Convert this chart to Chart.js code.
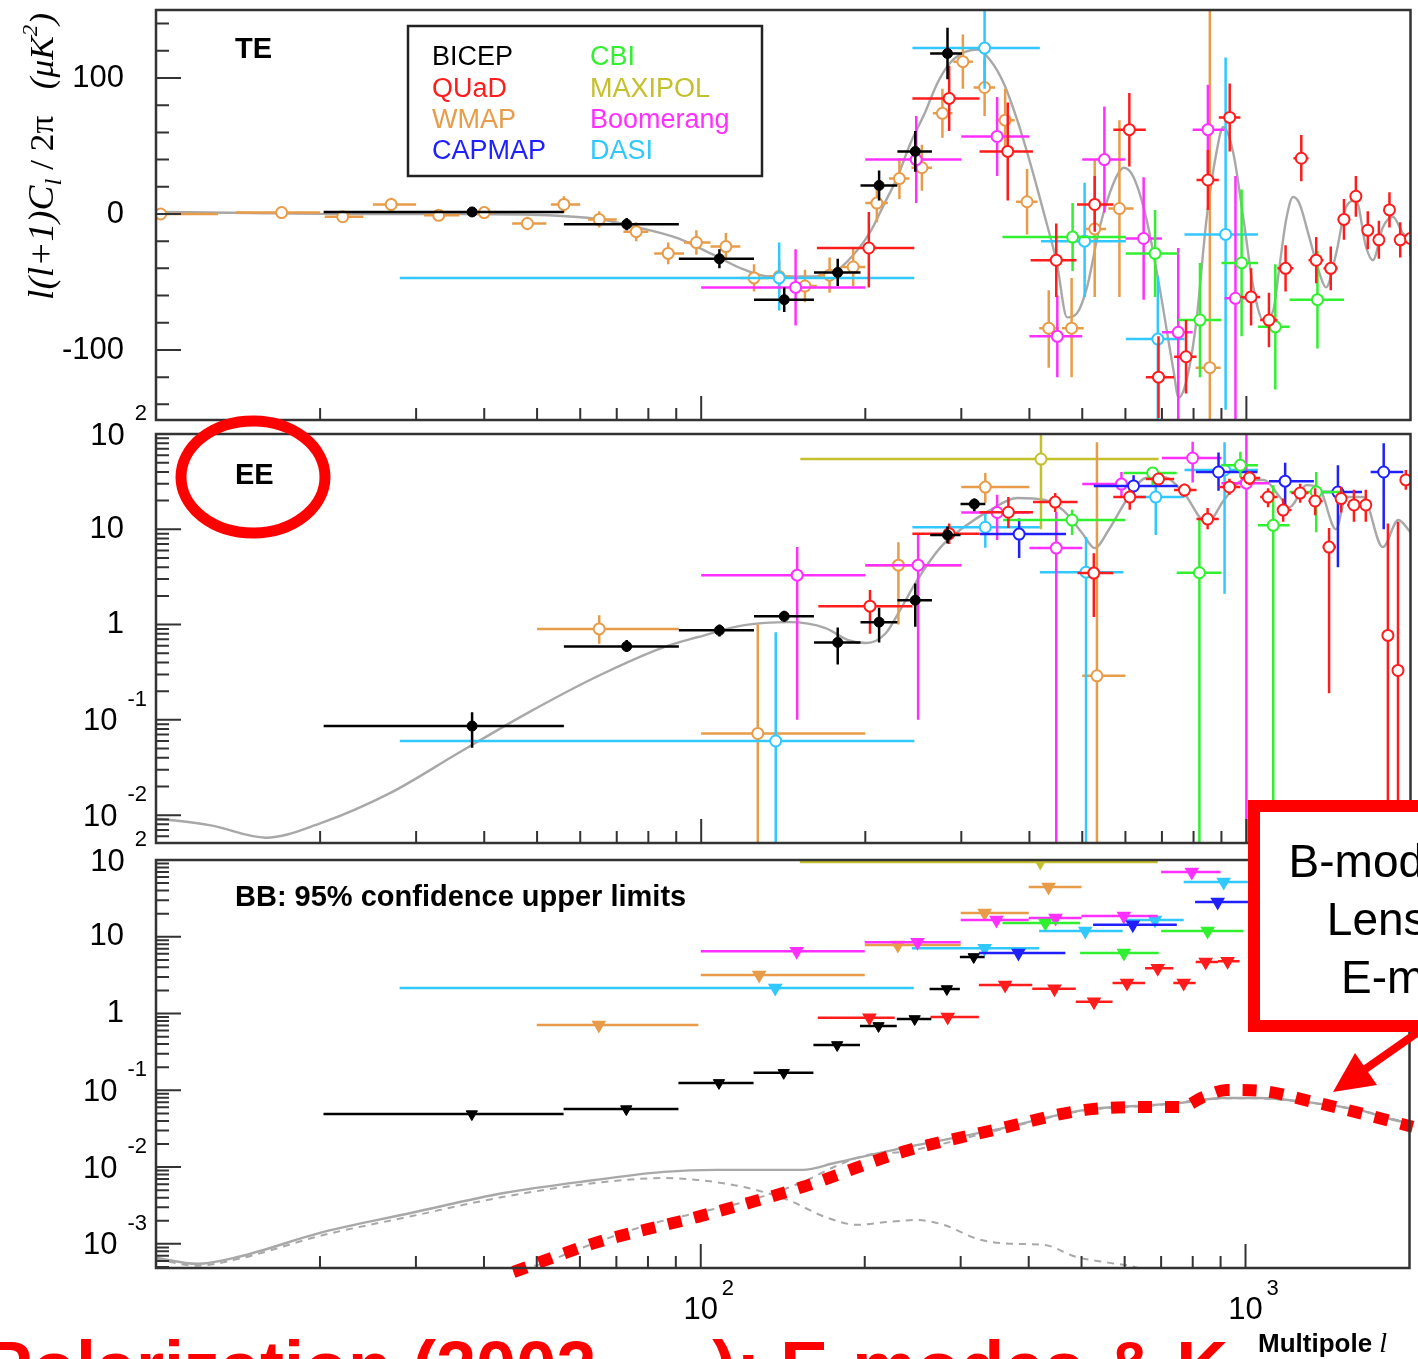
<!DOCTYPE html>
<html>
<head>
<meta charset="utf-8">
<script src="https://cdn.jsdelivr.net/npm/chart.js@4.4.1/dist/chart.umd.min.js"></script>
<style>
  html, body { margin: 0; padding: 0; background: #fff; }
  body { position: relative; width: 1418px; height: 1359px; overflow: hidden; }
  canvas { position: absolute; left: 0; }
  #te { top: 0; }
  #ee { top: 400px; }
  #bb { top: 825px; }
  svg { position: absolute; left: 0; top: 0; }
</style>
</head>
<body>
<canvas id="te" width="1418" height="432"></canvas>
<canvas id="ee" width="1418" height="455"></canvas>
<canvas id="bb" width="1418" height="534"></canvas>
<svg width="1418" height="1359" viewBox="0 0 1418 1359">
  <ellipse cx="253" cy="477" rx="72" ry="56" fill="none" stroke="#ff0000" stroke-width="11"/>
  <rect x="1254" y="806" width="230" height="220" fill="#fff" stroke="#ff0000" stroke-width="12"/>
  <g font-family="Liberation Sans, Arial, sans-serif" font-size="46" text-anchor="middle" fill="#000">
    <text x="1433" y="877">B-modes from</text>
    <text x="1433" y="935">Lensing of</text>
    <text x="1433" y="993">E-modes</text>
  </g>
  <line x1="1424" y1="1028" x2="1364" y2="1070" stroke="#ff0000" stroke-width="8"/>
  <polygon points="1333,1092 1377,1085 1355,1053" fill="#ff0000"/>
  <text x="-16" y="1392" font-family="Liberation Sans, Arial, sans-serif" font-weight="bold" font-size="72" fill="#ff0000">Polarization (2002- …): E-modes &amp; K</text>
</svg>
<script>
// multipole axis range shared by the three panels
const lMin = 10, lMax = 2000;

// ---- TE: [l, lLow, lHigh, value, valueLow, valueHigh]
const teBICEP = [
  [38, 20.3, 56, 1.5, -2, 5], [73, 56, 91, -7.5, -12, -3], [108, 91, 125, -33, -40, -26],
  [142, 125, 161, -63, -72, -54], [178, 161, 196, -43, -53, -33], [212, 196, 229, 21, 10, 32],
  [247, 229, 265, 46, 31, 61], [283, 263, 301, 118, 99, 137]
];
const teWMAP = [
  [10.2, 8, 13, 0, -4, 4], [17, 14, 20, 1, -3, 5], [22, 20.4, 24, -2, -6, 2], [27, 25, 30, 7, 2, 12],
  [33, 31, 36, -1, -5, 3], [40, 38, 42, 1, -3, 5], [48, 45, 52, -7, -12, -2], [56, 53, 60, 7, 1, 13],
  [65, 62, 70, -4, -10, 2], [76, 72, 80, -13, -20, -6], [87, 82, 93, -29, -37, -21], [98, 93, 104, -21, -30, -12],
  [111, 104, 118, -24, -34, -14], [125, 118, 133, -47, -57, -37], [139, 133, 146, -46, -58, -34],
  [155, 147, 163, -53, -65, -41], [172, 164, 181, -45, -58, -32], [190, 181, 200, -39, -53, -25],
  [210, 200, 220, 8, -6, 22], [231, 221, 241, 26, 11, 41], [254, 243, 265, 34, 17, 51],
  [277, 266, 289, 74, 56, 92], [302, 290, 315, 112, 92, 132], [331, 316, 346, 93, 72, 114],
  [361, 347, 376, 69, 46, 92], [396, 378, 414, 9, -15, 33], [434, 417, 453, -84, -113, -56],
  [478, 459, 503, -84, -120, -47], [527, 508, 553, -11, -61, 40], [585, 558, 621, 4, -61, 69],
  [857, 807, 897, -113, -250, 160]
];
const teQUaD = [
  [203, 163, 246, -25, -54, 1.5], [285, 244, 324, 85, 61, 109], [365, 324, 406, 46, 10, 82],
  [448, 402, 488, -34, -61, -7], [527, 489, 570, 7, -13, 28], [610, 570, 654, 62, 35, 89],
  [690, 654, 737, -120, -150, -90], [775, 737, 810, -105, -132, -78], [850, 810, 890, 25, 3, 47],
  [932, 890, 975, 71, 46, 96], [1020, 975, 1060, -61, -82, -40], [1100, 1060, 1140, -78, -98, -58],
  [1180, 1140, 1220, -40, -57, -23], [1261, 1220, 1300, 41, 24, 58], [1343, 1300, 1385, -34, -51, -17],
  [1428, 1385, 1470, -40, -56, -24], [1510, 1470, 1550, -4, -19, 11], [1588, 1550, 1630, 13, -2, 28],
  [1670, 1630, 1710, -12, -26, 2], [1750, 1710, 1790, -19, -33, -5], [1830, 1790, 1870, 3, -10, 16],
  [1915, 1870, 1960, -19, -32, -6], [2000, 1960, 2040, -18, -31, -5]
];
const teBoomerang = [
  [149, 100, 200, -54, -82, -26], [248, 200, 300, 40, 8, 72], [349, 300, 400, 57, 28, 86],
  [450, 400, 500, -90, -120, -60], [549, 500, 600, 40, 1, 79], [648, 600, 700, -18, -63, 27],
  [750, 700, 797, -87, -151, -25], [850, 797, 912, 62, 30, 95], [955, 912, 1004, -62, -155, 28]
];
const teDASI = [
  [139, 28, 246, -47, -71, -21], [331, 244, 418, 122, 92, 165], [505, 420, 601, -20, -61, 23],
  [688, 601, 770, -92, -160, -46], [916, 770, 1050, -15, -144, 115]
];
const teCBI = [
  [480, 357, 601, -17, -42, 8], [680, 601, 750, -29, -61, 3], [822, 750, 900, -78, -120, -36],
  [980, 900, 1050, -36, -90, 18], [1130, 1050, 1200, -83, -129, -37], [1350, 1200, 1510, -63, -99, -27]
];

// ---- EE: [l, lLow, lHigh, value, valueLow, valueHigh]   (uK^2, 1e-6 = open to bottom)
const eeBICEP = [
  [38, 20.3, 56, 0.086, 0.051, 0.12], [73, 56, 91, 0.59, 0.52, 0.69], [108, 91, 125, 0.87, 0.75, 1.0],
  [142, 125, 161, 1.22, 1.07, 1.4], [178, 161, 196, 0.65, 0.38, 0.93], [212, 196, 229, 1.06, 0.65, 1.5],
  [247, 229, 265, 1.8, 0.95, 2.7], [283, 263, 299, 8.7, 7.1, 10.7], [317, 299, 332, 18.4, 15.5, 21]
];
const eeWMAP = [
  [65, 50, 91, 0.9, 0.63, 1.25], [127, 100, 200, 0.072, 1e-6, 1.0], [230, 200, 300, 4.2, 1.0, 7.3],
  [332, 300, 400, 27.7, 19, 39], [532, 500, 600, 0.29, 1e-6, 82]
];
const eeQUaD = [
  [204, 164, 244, 1.56, 0.8, 2.3], [285, 244, 324, 9.0, 7.0, 11.5], [366, 324, 406, 15.1, 10.3, 21.8],
  [446, 406, 490, 19.3, 15.2, 24], [525, 490, 570, 3.47, 1.2, 5.6], [611, 570, 654, 21.8, 16, 26],
  [690, 654, 737, 33.7, 29, 39], [770, 737, 810, 25.8, 22, 30], [849, 810, 890, 12.8, 10, 16.7],
  [931, 890, 975, 27.8, 23, 34], [1013, 975, 1060, 34.5, 29, 41], [1096, 1060, 1140, 21.8, 17, 27],
  [1168, 1140, 1210, 15.9, 12, 21], [1255, 1210, 1300, 24, 19, 30], [1337, 1300, 1380, 19.8, 14, 27],
  [1418, 1380, 1460, 6.5, 0.19, 10.3], [1492, 1460, 1530, 21, 15, 28], [1575, 1530, 1620, 18, 12, 26],
  [1656, 1620, 1700, 18, 12, 26], [1818, 1780, 1860, 0.77, 1e-6, 11.5], [1897, 1860, 1940, 0.33, 1e-6, 12],
  [1961, 1940, 2000, 33, 26, 42]
];
const eeBoomerang = [
  [150, 100, 200, 3.3, 0.1, 6.5], [250, 200, 300, 4.2, 0.1, 8.7], [349, 300, 400, 15, 7.7, 23],
  [448, 400, 500, 6.35, 1e-6, 15.2], [590, 500, 610, 29.8, 22, 40], [797, 700, 900, 56, 31, 83],
  [1000, 900, 1100, 30.5, 1e-6, 200]
];
const eeDASI = [
  [137, 28, 246, 0.06, 1e-6, 0.83], [332, 244, 418, 10.5, 6.4, 14.8], [508, 418, 595, 3.55, 1e-6, 8.3],
  [682, 595, 770, 21.8, 8.7, 39], [912, 770, 1050, 41.9, 2.1, 82]
];
const eeCBI = [
  [479, 358, 600, 12.5, 8.7, 16], [673, 595, 745, 39, 29, 45], [820, 745, 900, 3.5, 1e-6, 12.5],
  [975, 900, 1050, 47, 35, 65], [1120, 1050, 1200, 11, 1e-6, 29], [1343, 1200, 1500, 24.6, 9.3, 40]
];
const eeCAPMAP = [
  [383, 324, 467, 8.9, 5.0, 13], [621, 525, 748, 28.5, 20, 37], [889, 808, 1048, 39.9, 25.4, 64],
  [1178, 1100, 1330, 32, 18, 50], [1472, 1380, 1630, 24.6, 4, 47], [1786, 1690, 1940, 39.9, 10, 80]
];
const eeMAXIPOL = [[420, 152, 690, 54.6, 10, 200]];

// ---- BB 95% upper limits: [l, lLow, lHigh, limit]
const bbBICEP = [
  [38, 20.3, 56, 0.049], [73, 56, 91, 0.057], [108, 91, 125, 0.125], [142, 125, 161, 0.169],
  [178, 161, 196, 0.39], [212, 196, 229, 0.69], [247, 229, 265, 0.85], [283, 263, 299, 2.09], [317, 299, 332, 5.46]
];
const bbWMAP = [[65, 50, 99, 0.71], [128, 100, 200, 3.18], [230, 200, 300, 7.8], [332, 300, 400, 20.4], [435, 400, 500, 44.5]];
const bbQUaD = [
  [204, 164, 227, 0.88], [284, 264, 324, 0.9], [362, 324, 406, 2.36], [446, 406, 488, 2.1], [527, 488, 570, 1.42],
  [606, 570, 654, 2.5], [690, 654, 737, 3.9], [770, 737, 810, 2.5], [845, 810, 890, 4.7], [927, 890, 975, 4.8]
];
const bbBoomerang = [[150, 100, 200, 6.5], [250, 200, 300, 8.5], [349, 300, 400, 16.6], [448, 400, 500, 17.6], [598, 500, 690, 18.7], [797, 700, 900, 70]];
const bbDASI = [[137, 28, 246, 2.15], [332, 244, 418, 7.1], [508, 418, 595, 11.9], [682, 595, 770, 16.6], [912, 770, 1050, 51.8]];
const bbCBI = [[429, 358, 497, 15.1], [598, 497, 693, 6.15], [852, 700, 990, 11.9]];
const bbCAPMAP = [[383, 324, 467, 6.15], [621, 525, 748, 14.3], [889, 808, 1048, 28.4]];
const bbMAXIPOL = [[420, 152, 690, 94]];

// ---- model spectra
const teModelL = [10, 14.9, 22.6, 34.5, 50.4, 64.8, 76.7, 90.8, 104, 120, 134, 155, 178, 194, 205, 217, 229, 242, 257, 271,
  286, 304, 321, 339, 359, 380, 401, 425, 449, 469, 489, 510, 538, 571, 596, 621, 656, 693, 735, 751, 777, 810, 845, 881,
  907, 946, 988, 1030, 1074, 1120, 1148, 1183, 1218, 1250, 1304, 1360, 1400, 1461, 1523, 1589, 1657, 1706, 1779, 1856, 1936, 2000];
const teModelCl = [1.5, 0.7, 0, 0, -0.7, -3.7, -10, -18, -29, -41, -46, -46, -41, -26, -12, 8, 27, 52, 74, 96,
  111, 119, 121, 113, 96, 69, 38, 1, -36, -76, -73, -54, -10, 23, 34, 27, -4, -54, -115, -135, -122, -78, -4, 45,
  64, 45, -4, -54, -78, -71, -41, -4, 12.5, 8, -17, -43, -54, -29, 5, 10, -24, -34, -10, -2, -14, -19];
const eeModelL = [10, 10.6, 12.6, 15.9, 20, 26.8, 35.8, 47.9, 64, 85.5, 98.7, 120, 145, 169, 186, 201, 218, 230, 249, 275,
  303, 339, 380, 427, 461, 500, 527, 560, 603, 654, 706, 768, 847, 910, 990, 1077, 1152, 1200, 1290, 1360, 1460, 1523,
  1636, 1779, 1900, 2000];
const eeModelCl = [0.0092, 0.0089, 0.0078, 0.0058, 0.0082, 0.0169, 0.0446, 0.117, 0.28, 0.58, 0.74, 0.986, 1.06, 0.92,
  0.686, 0.64, 0.81, 1.32, 2.93, 6.5, 10.5, 15.9, 21.3, 20.3, 15.9, 9.1, 6.35, 10, 20.3, 34.5, 35.3, 24, 11.6, 20.3, 32.9,
  32.9, 21.8, 17.1, 29.1, 27.1, 10, 21.8, 21.8, 6.5, 12.5, 9.35];
const bbTotalL = [10, 11.9, 14.2, 20, 29.5, 43.5, 64, 85.5, 107, 154, 176, 235, 346, 508, 679, 760, 910, 1056, 1332, 1615, 1875, 2000];
const bbTotalCl = [6.6e-4, 5.5e-4, 6.8e-4, 1.39e-3, 2.54e-3, 4.6e-3, 6.8e-3, 8.66e-3, 9.2e-3, 9.2e-3, 0.0113, 0.0178,
  0.0305, 0.0556, 0.0645, 0.0686, 0.0796, 0.0796, 0.0686, 0.0556, 0.041, 0.0377];
const bbTensorL = [10, 11.9, 14.2, 20, 29.5, 43.5, 64, 85.5, 98.7, 120, 145, 169, 194, 221, 249, 279, 326, 380, 427, 488, 560, 603, 656];
const bbTensorCl = [6.3e-4, 5.2e-4, 6.4e-4, 1.27e-3, 2.3e-3, 4.1e-3, 6.2e-3, 7.2e-3, 6.8e-3, 5.5e-3, 3.7e-3, 2.25e-3,
  1.77e-3, 1.93e-3, 2.05e-3, 1.77e-3, 1.13e-3, 1.0e-3, 9.7e-4, 6.8e-4, 5.7e-4, 5.3e-4, 4.6e-4];
const bbLensL = [40, 48.9, 64, 80, 100, 120, 154, 176, 202, 235, 346, 508, 679, 910, 1056, 1332, 1615, 2000];
const bbLensCl = [3.5e-4, 5.0e-4, 1.03e-3, 1.77e-3, 2.6e-3, 3.5e-3, 6.4e-3, 0.0101, 0.0144, 0.0158, 0.0295, 0.0548,
  0.0636, 0.0786, 0.0786, 0.0678, 0.0549, 0.0372];
// hand-drawn highlight over the lensing B-mode curve
const markL = [45.3, 64, 98.7, 153.7, 235, 346, 508, 679, 760, 838, 923, 1056, 1332, 1615, 2028];
const markCl = [4.3e-4, 1.03e-3, 2.25e-3, 5.5e-3, 0.0158, 0.0305, 0.0556, 0.0608, 0.0608, 0.082, 0.101, 0.099, 0.0706, 0.0508, 0.0334];

// ---- axis labels
const teTickValues = [100, 0, -100];
const teTickBases = ['100', '0', '-100'];
const eeTickValues = [100, 10, 1, 0.1, 0.01];
const eeTickBases = ['10', '10', '1', '10', '10'];
const eeTickExps = ['2', '', '', '-1', '-2'];
const bbTickValues = [100, 10, 1, 0.1, 0.01, 0.001];
const bbTickBases = ['10', '10', '1', '10', '10', '10'];
const bbTickExps = ['2', '', '', '-1', '-2', '-3'];
const xTickValues = [100, 1000];
const xTickExps = ['2', '3'];
const legendLeft = ['BICEP', 'QUaD', 'WMAP', 'CAPMAP'];
const legendRight = ['CBI', 'MAXIPOL', 'Boomerang', 'DASI'];

const colors = {
  BICEP: '#000000', QUaD: '#ff1c1c', WMAP: '#e89c4a', CAPMAP: '#2020ff',
  CBI: '#30f030', MAXIPOL: '#c4c02c', Boomerang: '#ff30ff', DASI: '#30c8ff'
};
const stackOrder = { BICEP: 1, QUaD: 2, CBI: 3, CAPMAP: 4, Boomerang: 5, DASI: 6, WMAP: 7, MAXIPOL: 8 };
const SANS = '"Liberation Sans", Arial, sans-serif';
const SERIF = '"Liberation Serif", "Times New Roman", serif';

function pointSet(rows, name, limits) {
  const c = colors[name];
  return {
    label: name,
    data: rows.map(r => limits
      ? { x: r[0], y: r[3], xMin: r[1], xMax: r[2] }
      : { x: r[0], y: r[3], xMin: r[1], xMax: r[2], yMin: r[4], yMax: r[5] }),
    bars: true,
    showLine: false,
    borderColor: c,
    pointBorderColor: c,
    pointBackgroundColor: (limits || name === 'BICEP') ? c : '#ffffff',
    pointStyle: limits ? 'triangle' : 'circle',
    rotation: limits ? 180 : 0,
    pointRadius: limits ? 6.5 : (name === 'BICEP' ? 5 : 5.5),
    pointBorderWidth: name === 'BICEP' ? 1 : 2,
    order: stackOrder[name]
  };
}

function curve(ls, vs, opts) {
  return Object.assign({
    data: ls.map((l, i) => ({ x: l, y: vs[i] })),
    showLine: true, pointRadius: 0, borderColor: '#a8a8a8', borderWidth: 2.4,
    cubicInterpolationMode: 'monotone', order: 100
  }, opts || {});
}

const errorBars = {
  id: 'errorBars',
  beforeDatasetDraw(chart, args) {
    const ds = chart.data.datasets[args.index];
    if (!ds.bars) return;
    const { ctx, chartArea: a, scales: { x, y } } = chart;
    ctx.save();
    ctx.beginPath();
    ctx.rect(a.left, a.top, a.right - a.left, a.bottom - a.top);
    ctx.clip();
    ctx.strokeStyle = ds.borderColor;
    ctx.lineWidth = 2.5;
    ctx.beginPath();
    ds.data.forEach(p => {
      const px = x.getPixelForValue(p.x), py = y.getPixelForValue(p.y);
      ctx.moveTo(x.getPixelForValue(p.xMin), py);
      ctx.lineTo(x.getPixelForValue(p.xMax), py);
      if (p.yMin !== undefined) {
        ctx.moveTo(px, Math.min(y.getPixelForValue(p.yMin), a.bottom + 20));
        ctx.lineTo(px, Math.max(y.getPixelForValue(p.yMax), a.top - 20));
      }
    });
    ctx.stroke();
    ctx.restore();
  }
};

function logMinors(min, max) {
  const out = [];
  for (let d = 1e-4; d < max; d *= 10) {
    for (let k = 2; k <= 9; k++) {
      const v = k * d;
      if (v > min && v < max) out.push(v);
    }
  }
  return out;
}

function drawYLabel(ctx, py, base, exp) {
  ctx.fillStyle = '#000';
  ctx.textBaseline = 'middle';
  ctx.textAlign = 'right';
  if (!exp) {
    ctx.font = '31px ' + SANS;
    ctx.fillText(base, 124, py);
    return;
  }
  ctx.font = '22px ' + SANS;
  const ew = ctx.measureText(exp).width;
  ctx.fillText(exp, 147, py - 20);
  ctx.font = '31px ' + SANS;
  ctx.fillText(base, 147 - ew - 10, py + 2);
}

function panel(cfg) {
  return {
    id: 'panel',
    afterDraw(chart) {
      const { ctx, chartArea: a, scales: { x, y } } = chart;
      ctx.save();
      ctx.strokeStyle = '#333';
      ctx.lineWidth = 2;
      ctx.beginPath();
      [20, 30, 40, 50, 60, 70, 80, 90, 200, 300, 400, 500, 600, 700, 800, 900].forEach(l => {
        const px = x.getPixelForValue(l);
        ctx.moveTo(px, a.bottom); ctx.lineTo(px, a.bottom - 12);
      });
      xTickValues.forEach(l => {
        const px = x.getPixelForValue(l);
        ctx.moveTo(px, a.bottom); ctx.lineTo(px, a.bottom - 24);
      });
      cfg.minor.forEach(v => {
        const py = y.getPixelForValue(v);
        ctx.moveTo(a.left, py); ctx.lineTo(a.left + 13, py);
      });
      cfg.ticks.forEach(v => {
        const py = y.getPixelForValue(v);
        ctx.moveTo(a.left, py); ctx.lineTo(a.left + 25, py);
      });
      ctx.stroke();
      ctx.lineWidth = 2.5;
      ctx.strokeRect(a.left, a.top, a.right - a.left, a.bottom - a.top);
      cfg.ticks.forEach((v, i) => drawYLabel(ctx, y.getPixelForValue(v), cfg.bases[i], cfg.exps ? cfg.exps[i] : ''));
      ctx.fillStyle = '#000';
      ctx.textAlign = 'left';
      ctx.textBaseline = 'alphabetic';
      ctx.font = 'bold 29px ' + SANS;
      ctx.fillText(cfg.title, 235, a.top + cfg.titleDy);
      if (cfg.extra) cfg.extra(ctx, chart);
      ctx.restore();
    }
  };
}

function makeChart(id, padding, yScale, datasets, cfg) {
  return new Chart(document.getElementById(id), {
    type: 'scatter',
    data: { datasets },
    options: {
      responsive: false, animation: false, devicePixelRatio: 1, events: [],
      layout: { padding },
      scales: {
        x: { type: 'logarithmic', min: lMin, max: lMax, display: false },
        y: Object.assign({ display: false }, yScale)
      },
      plugins: { legend: { display: false }, tooltip: { enabled: false } }
    },
    plugins: [errorBars, panel(cfg)]
  });
}

function drawLegend(ctx) {
  ctx.strokeStyle = '#222';
  ctx.lineWidth = 2.5;
  ctx.strokeRect(408, 26, 354, 150);
  ctx.font = '27px ' + SANS;
  ctx.textAlign = 'left';
  ctx.textBaseline = 'alphabetic';
  const rows = [65, 97, 128, 159];
  legendLeft.forEach((n, i) => { ctx.fillStyle = colors[n]; ctx.fillText(n, 432, rows[i]); });
  legendRight.forEach((n, i) => { ctx.fillStyle = colors[n]; ctx.fillText(n, 590, rows[i]); });
}

// rotated axis title, stretched along its run to span the same height as the original
function drawYTitle(ctx) {
  const segs = [
    ['l(l+1)C', 'italic 36px ' + SERIF, 0],
    ['l', 'italic 24px ' + SERIF, 8],
    [' / 2π', '34px ' + SERIF, 0],
    ['   (μK', 'italic 34px ' + SERIF, 0],
    ['2', 'italic 22px ' + SERIF, -16],
    [')', 'italic 34px ' + SERIF, 0]
  ];
  let total = 0;
  segs.forEach(s => { ctx.font = s[1]; total += ctx.measureText(s[0]).width; });
  ctx.save();
  ctx.translate(53, 300);
  ctx.rotate(-Math.PI / 2);
  ctx.scale(287 / total, 1);
  ctx.fillStyle = '#000';
  ctx.textAlign = 'left';
  ctx.textBaseline = 'alphabetic';
  let u = 0;
  segs.forEach(s => { ctx.font = s[1]; ctx.fillText(s[0], u, s[2]); u += ctx.measureText(s[0]).width; });
  ctx.restore();
}

function drawXAxisLabels(ctx, chart) {
  const { chartArea: a, scales: { x } } = chart;
  ctx.fillStyle = '#000';
  ctx.textBaseline = 'middle';
  xTickValues.forEach((l, i) => {
    const px = x.getPixelForValue(l);
    ctx.font = '31px ' + SANS;
    ctx.textAlign = 'center';
    ctx.fillText('10', px, a.bottom + 42);
    ctx.font = '22px ' + SANS;
    ctx.textAlign = 'left';
    ctx.fillText(xTickExps[i], px + 21, a.bottom + 21);
  });
  ctx.textBaseline = 'alphabetic';
  ctx.textAlign = 'left';
  ctx.font = 'bold 26px ' + SANS;
  ctx.fillText('Multipole ', 1258, a.bottom + 84);
  const w = ctx.measureText('Multipole ').width;
  ctx.font = 'italic 28px ' + SERIF;
  ctx.fillText('l', 1258 + w, a.bottom + 84);
}

const pad = (top, bottom) => ({ left: 156, right: 0, top, bottom });

makeChart('te', pad(10, 12), { type: 'linear', min: -151.5, max: 150 }, [
  curve(teModelL, teModelCl),
  pointSet(teWMAP, 'WMAP'), pointSet(teDASI, 'DASI'), pointSet(teBoomerang, 'Boomerang'),
  pointSet(teCBI, 'CBI'), pointSet(teQUaD, 'QUaD'), pointSet(teBICEP, 'BICEP')
], {
  ticks: teTickValues, bases: teTickBases,
  minor: [-140, -120, -80, -60, -40, -20, 20, 40, 60, 80, 120, 140],
  title: 'TE', titleDy: 48,
  extra: (ctx) => { drawLegend(ctx); drawYTitle(ctx); }
});

makeChart('ee', pad(34, 12), { type: 'logarithmic', min: 0.0051, max: 100 }, [
  curve(eeModelL, eeModelCl),
  pointSet(eeMAXIPOL, 'MAXIPOL'), pointSet(eeWMAP, 'WMAP'), pointSet(eeDASI, 'DASI'),
  pointSet(eeBoomerang, 'Boomerang'), pointSet(eeCAPMAP, 'CAPMAP'), pointSet(eeCBI, 'CBI'),
  pointSet(eeQUaD, 'QUaD'), pointSet(eeBICEP, 'BICEP')
], {
  ticks: eeTickValues, bases: eeTickBases, exps: eeTickExps,
  minor: logMinors(0.0051, 100),
  title: 'EE', titleDy: 50
});

makeChart('bb', pad(35, 91), { type: 'logarithmic', min: 4.85e-4, max: 100 }, [
  curve(bbTotalL, bbTotalCl),
  curve(bbTensorL, bbTensorCl, { borderDash: [7, 6], borderWidth: 2 }),
  curve(bbLensL, bbLensCl, { borderDash: [7, 6], borderWidth: 2 }),
  pointSet(bbMAXIPOL, 'MAXIPOL', true), pointSet(bbWMAP, 'WMAP', true), pointSet(bbDASI, 'DASI', true),
  pointSet(bbBoomerang, 'Boomerang', true), pointSet(bbCAPMAP, 'CAPMAP', true), pointSet(bbCBI, 'CBI', true),
  pointSet(bbQUaD, 'QUaD', true), pointSet(bbBICEP, 'BICEP', true),
  curve(markL, markCl, { borderColor: '#ff0000', borderWidth: 12, borderDash: [14, 13], borderCapStyle: 'butt', clip: false, order: -10 })
], {
  ticks: bbTickValues, bases: bbTickBases, exps: bbTickExps,
  minor: logMinors(4.85e-4, 100),
  title: 'BB: 95% confidence upper limits', titleDy: 46,
  extra: drawXAxisLabels
});
</script>
</body>
</html>
